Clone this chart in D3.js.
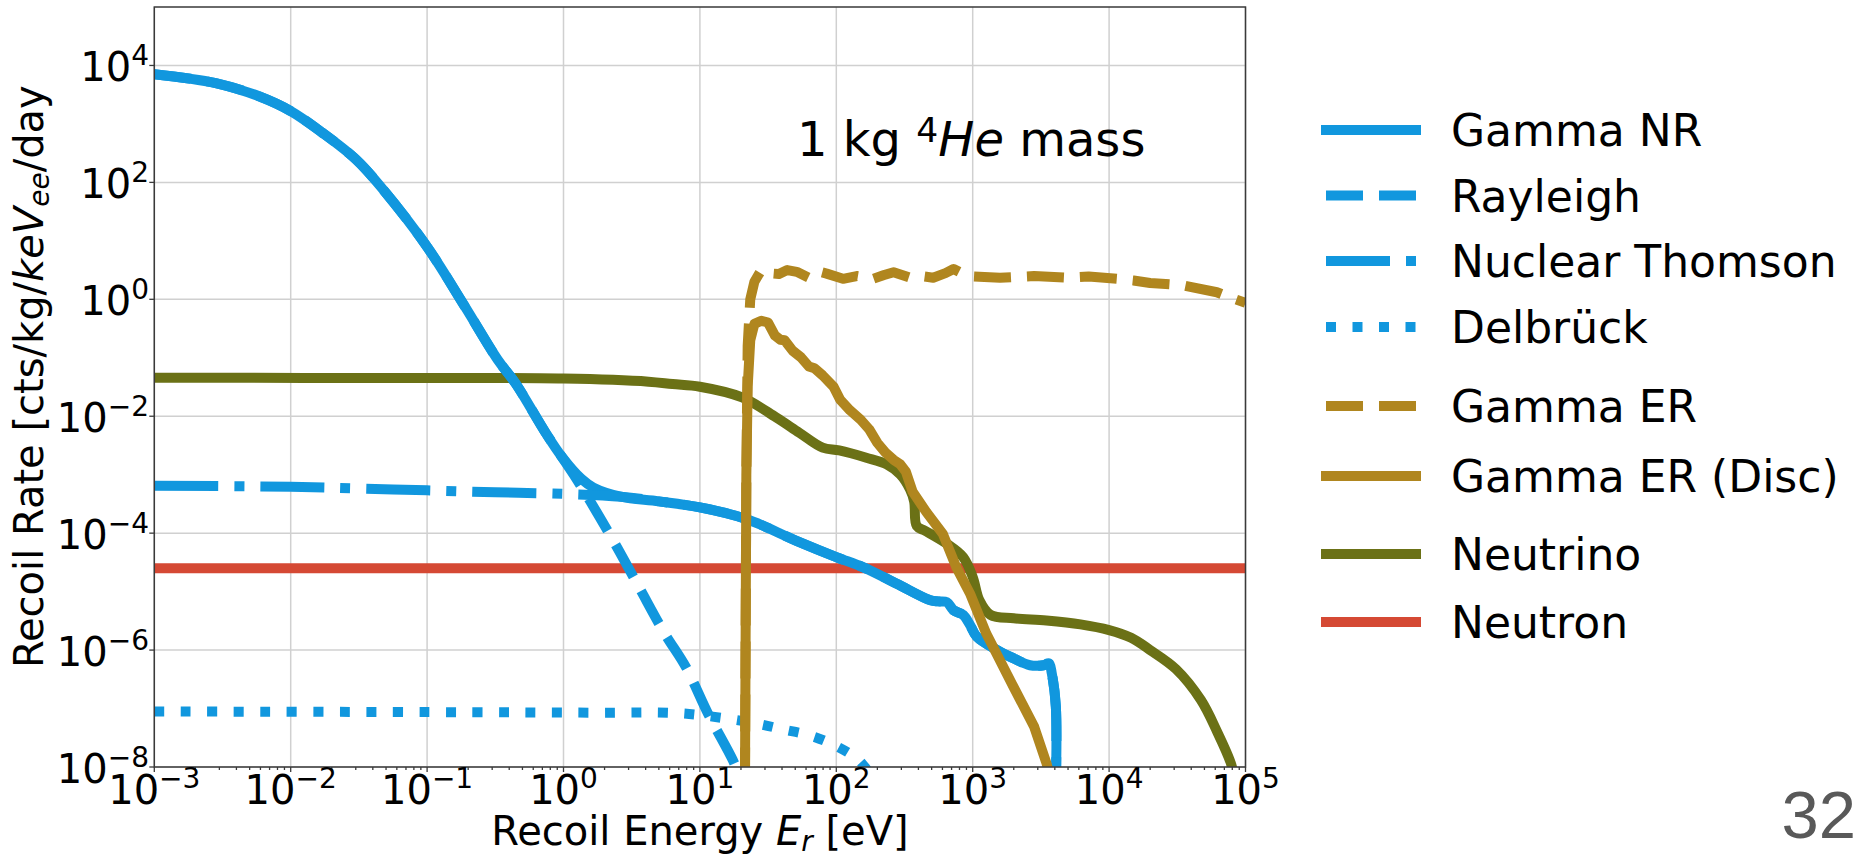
<!DOCTYPE html>
<html>
<head>
<meta charset="utf-8">
<script src="https://cdn.jsdelivr.net/npm/d3@7"></script>
<style>
  html, body { margin: 0; padding: 0; background: #fff; }
  svg { display: block; font-family: "DejaVu Sans", sans-serif; }
</style>
</head>
<body>
<svg id="chart" width="1858" height="857"></svg>
<script>
// ---- Tick values (powers of ten) ----
const xTickExps = [-3, -2, -1, 0, 1, 2, 3, 4, 5];
const yTickExps = [-8, -6, -4, -2, 0, 2, 4];

// ---- Series: [recoil energy (eV), rate (cts/kg/keVee/day)] ----
const gammaNR = [
  [1e-3, 7.1e3], [2.82e-3, 5.0e3], [5.9e-3, 2.95e3], [1e-2, 1.66e3], [1.7e-2, 7.1e2],
  [3.02e-2, 2.45e2], [4.68e-2, 79], [0.1, 7.9], [0.19, 0.74], [0.331, 9.1e-2],
  [0.447, 3.6e-2], [0.74, 5.2e-3], [0.977, 2.0e-3], [1.35, 8.5e-4], [1.66, 6.0e-4],
  [2.63, 4.2e-4], [5.0, 3.5e-4], [10, 2.75e-4], [21.9, 1.74e-4], [51, 7.4e-5],
  [100, 3.9e-5], [158, 2.6e-5], [275, 1.38e-5], [490, 7.1e-6], [560, 6.8e-6],
  [646, 6.6e-6], [724, 4.8e-6], [851, 4.0e-6], [955, 2.7e-6], [1070, 1.7e-6],
  [1510, 1.0e-6], [2000, 7.2e-7], [2630, 5.5e-7], [3310, 5.5e-7], [3630, 5.9e-7],
  [3800, 4.0e-7], [4070, 1.07e-7], [4070, 5e-9]
];

const rayleigh = [
  [1e-3, 7.1e3], [2.82e-3, 5.0e3], [5.9e-3, 2.95e3], [1e-2, 1.66e3], [1.7e-2, 7.1e2],
  [3.02e-2, 2.45e2], [4.68e-2, 79], [0.1, 7.9], [0.19, 0.74], [0.331, 9.1e-2],
  [0.447, 3.6e-2], [0.74, 5.2e-3], [1.26, 8.1e-4], [2.29, 7.8e-5], [3.55, 1.23e-5],
  [5.5, 1.95e-6], [7.9, 5.1e-7], [11.5, 8.1e-8], [17.4, 1.32e-8], [18.6, 8.9e-9], [20, 5e-9]
];

const nuclearThomson = [
  [1e-3, 6.5e-4], [1e-2, 6.2e-4], [3.16e-2, 5.8e-4], [0.1, 5.4e-4], [0.316, 5.0e-4],
  [1, 4.7e-4], [2.63, 4.2e-4], [5.0, 3.5e-4], [10, 2.75e-4], [21.9, 1.74e-4],
  [51, 7.4e-5], [100, 3.9e-5], [158, 2.6e-5], [275, 1.38e-5], [490, 7.1e-6],
  [560, 6.8e-6], [646, 6.6e-6], [724, 4.8e-6], [851, 4.0e-6], [955, 2.7e-6],
  [1070, 1.7e-6], [1510, 1.0e-6], [2000, 7.2e-7], [2630, 5.5e-7], [3310, 5.5e-7],
  [3630, 5.9e-7], [3800, 4.0e-7], [4070, 1.07e-7], [4070, 5e-9]
];

const delbruck = [
  [1e-3, 8.9e-8], [0.1, 8.7e-8], [1.66, 8.5e-8], [7.1, 8.3e-8], [17.4, 6.5e-8],
  [27.5, 5.4e-8], [40.7, 4.4e-8], [63, 3.5e-8], [95.5, 2.4e-8], [141, 1.41e-8],
  [162, 1.0e-8], [170, 8.5e-9]
];

const gammaER = [
  [21.4, 5e-9], [21.9, 1e-3], [22.4, 0.16], [23.4, 1.0], [25.1, 2.0], [28.2, 3.16],
  [31.6, 2.8], [38, 2.7], [43.7, 3.16], [51.3, 2.95], [63, 2.34], [74, 3.0], [85, 2.75],
  [112, 2.24], [141, 2.5], [186, 2.24], [224, 2.6], [263, 2.9], [347, 2.34], [417, 2.5],
  [513, 2.34], [631, 2.8], [724, 3.3], [912, 2.5], [1585, 2.34], [2820, 2.5], [4900, 2.34],
  [7080, 2.45], [1.15e4, 2.24], [1.51e4, 2.1], [2e4, 1.9], [3.47e4, 1.74], [6.17e4, 1.32],
  [7.76e4, 1.07], [1e5, 0.87]
];

const gammaERDisc = [
  [21.4, 5e-9], [21.9, 1e-3], [22.4, 3.2e-2], [23.4, 0.2], [25.1, 0.38], [28.2, 0.43],
  [31.6, 0.40], [35.5, 0.24], [38.9, 0.204], [41.7, 0.2], [47.9, 0.132], [55, 0.102],
  [63, 0.071], [69.2, 0.066], [79.4, 0.05], [95.5, 3.2e-2], [107, 1.9e-2], [126, 1.26e-2],
  [151, 8.7e-3], [174, 6.0e-3], [200, 3.5e-3], [229, 2.4e-3], [263, 1.8e-3], [295, 1.5e-3],
  [324, 1.12e-3], [363, 5.1e-4], [457, 2.3e-4], [603, 9.8e-5], [759, 2.6e-5], [955, 9.3e-6],
  [1260, 1.9e-6], [2000, 2.3e-7], [2820, 4.9e-8], [3470, 1.17e-8], [3630, 7.9e-9]
];

const neutrino = [
  [1e-3, 4.54e-2], [0.1, 4.5e-2], [1, 4.4e-2], [4.2, 3.9e-2], [6.3, 3.55e-2], [10, 3.2e-2],
  [20.4, 2.1e-2], [36.3, 9.5e-3], [53.7, 5.2e-3], [79.4, 2.9e-3], [105, 2.6e-3],
  [166, 1.95e-3], [234, 1.5e-3], [295, 1.0e-3], [347, 5.6e-4], [372, 3.5e-4], [389, 1.32e-4],
  [447, 1.1e-4], [646, 6.6e-5], [851, 3.9e-5], [1000, 1.78e-5], [1120, 7.1e-6],
  [1350, 4.0e-6], [2000, 3.5e-6], [3470, 3.2e-6], [6170, 2.75e-6], [1e4, 2.2e-6],
  [1.45e4, 1.62e-6], [2e4, 1.0e-6], [3.1e4, 4.7e-7], [4.7e4, 1.41e-7], [6.2e4, 4.0e-8],
  [7.8e4, 1.17e-8], [8.3e4, 6.3e-9]
];

const neutron = [[1e-3, 2.5e-5], [1e5, 2.5e-5]];

const legendLabels = ["Gamma NR", "Rayleigh", "Nuclear Thomson", "Delbrück",
  "Gamma ER", "Gamma ER (Disc)", "Neutrino", "Neutron"];

// ---- Styles ----
const BLUE = "#1197de", GOLD = "#b0861f", OLIVE = "#6b7116", RED = "#d54934";
const LW = 10;
const DASHED = `${3.7 * LW} ${1.6 * LW}`;
const DASHDOT = `${6.4 * LW} ${1.6 * LW} ${LW} ${1.6 * LW}`;
const DOTTED = `${LW} ${1.65 * LW}`;

const series = [
  { key: "Gamma NR", data: gammaNR, color: BLUE, dash: null, smooth: true },
  { key: "Rayleigh", data: rayleigh, color: BLUE, dash: DASHED, smooth: true },
  { key: "Nuclear Thomson", data: nuclearThomson, color: BLUE, dash: DASHDOT, smooth: true },
  { key: "Delbrück", data: delbruck, color: BLUE, dash: DOTTED, smooth: true },
  { key: "Gamma ER", data: gammaER, color: GOLD, dash: DASHED, smooth: false },
  { key: "Gamma ER (Disc)", data: gammaERDisc, color: GOLD, dash: null, smooth: false },
  { key: "Neutrino", data: neutrino, color: OLIVE, dash: null, smooth: true },
  { key: "Neutron", data: neutron, color: RED, dash: null, smooth: false }
];
const drawOrder = ["Neutron", "Neutrino", "Gamma NR", "Rayleigh", "Nuclear Thomson",
  "Delbrück", "Gamma ER", "Gamma ER (Disc)"];

// ---- Layout ----
const plot = { left: 154.3, right: 1245.5, top: 7, bottom: 767 };
const svg = d3.select("#chart");

const x = d3.scaleLog().domain([1e-3, 1e5]).range([plot.left, plot.right]);
const y = d3.scaleLog().domain([1e-8, 1e5]).range([plot.bottom, plot.top]);

svg.append("defs").append("clipPath").attr("id", "plotClip")
  .append("rect")
  .attr("x", plot.left).attr("y", plot.top)
  .attr("width", plot.right - plot.left).attr("height", plot.bottom - plot.top);

// Grid
const grid = svg.append("g").attr("stroke", "#d0d0d0").attr("stroke-width", 1.5);
xTickExps.forEach(e => {
  const px = x(Math.pow(10, e));
  grid.append("line").attr("x1", px).attr("x2", px).attr("y1", plot.top).attr("y2", plot.bottom);
});
yTickExps.forEach(e => {
  const py = y(Math.pow(10, e));
  grid.append("line").attr("x1", plot.left).attr("x2", plot.right).attr("y1", py).attr("y2", py);
});

// Data lines
const lineSmooth = d3.line().x(d => x(d[0])).y(d => y(d[1])).curve(d3.curveCatmullRom.alpha(0.5));
const lineStraight = d3.line().x(d => x(d[0])).y(d => y(d[1]));
const lines = svg.append("g").attr("clip-path", "url(#plotClip)");
drawOrder.forEach(k => {
  const s = series.find(v => v.key === k);
  lines.append("path")
    .attr("d", (s.smooth ? lineSmooth : lineStraight)(s.data))
    .attr("fill", "none")
    .attr("stroke", s.color)
    .attr("stroke-width", LW)
    .attr("stroke-linejoin", "round")
    .attr("stroke-linecap", "butt")
    .attr("stroke-dasharray", s.dash);
});

// Frame
svg.append("rect")
  .attr("x", plot.left).attr("y", plot.top)
  .attr("width", plot.right - plot.left).attr("height", plot.bottom - plot.top)
  .attr("fill", "none").attr("stroke", "#3a3a3a").attr("stroke-width", 1.5);

// Ticks
const ticks = svg.append("g").attr("stroke", "#3a3a3a").attr("stroke-width", 1.3);
for (let e = -3; e <= 5; e++) {
  const px = x(Math.pow(10, e));
  ticks.append("line").attr("x1", px).attr("x2", px).attr("y1", plot.bottom).attr("y2", plot.bottom + 5);
  if (e < 5) {
    for (let m = 2; m <= 9; m++) {
      const mx = x(m * Math.pow(10, e));
      ticks.append("line").attr("x1", mx).attr("x2", mx).attr("y1", plot.bottom).attr("y2", plot.bottom + 3);
    }
  }
}
yTickExps.forEach(e => {
  const py = y(Math.pow(10, e));
  ticks.append("line").attr("x1", plot.left - 5).attr("x2", plot.left).attr("y1", py).attr("y2", py);
});

// Tick labels
const TICK_FS = 40;
const fmtExp = e => (e < 0 ? "\u2212" + Math.abs(e) : String(e));
function powLabel(g, px, py, e, anchor) {
  const t = g.append("text").attr("x", px).attr("y", py)
    .attr("text-anchor", anchor).attr("font-size", TICK_FS).attr("fill", "#000");
  t.append("tspan").text("10");
  t.append("tspan").attr("font-size", TICK_FS * 0.7).attr("dy", -16).text(fmtExp(e));
}
const labels = svg.append("g");
xTickExps.forEach(e => powLabel(labels, x(Math.pow(10, e)), 804, e, "middle"));
yTickExps.forEach(e => powLabel(labels, 149, y(Math.pow(10, e)) + 16, e, "end"));

// Axis titles
const AX_FS = 40;
const xl = svg.append("text").attr("x", (plot.left + plot.right) / 2).attr("y", 845)
  .attr("text-anchor", "middle").attr("font-size", AX_FS);
xl.append("tspan").text("Recoil Energy ");
xl.append("tspan").attr("font-style", "italic").text("E");
xl.append("tspan").attr("font-style", "italic").attr("font-size", AX_FS * 0.7).attr("dy", 6).text("r");
xl.append("tspan").attr("dy", -6).text(" [eV]");

const yl = svg.append("text").attr("transform", "translate(43,668) rotate(-90)")
  .attr("text-anchor", "start").attr("font-size", AX_FS);
yl.append("tspan").text("Recoil Rate [cts/kg/");
yl.append("tspan").attr("font-style", "italic").text("keV");
yl.append("tspan").attr("font-style", "italic").attr("font-size", AX_FS * 0.7).attr("dy", 6).text("ee");
yl.append("tspan").attr("dy", -6).text("/day");

// Annotation
const ann = svg.append("text").attr("x", 797).attr("y", 156).attr("font-size", 48);
ann.append("tspan").text("1 kg ");
ann.append("tspan").attr("font-size", 48 * 0.72).attr("dy", -14).text("4");
ann.append("tspan").attr("font-style", "italic").attr("dy", 14).text("He");
ann.append("tspan").text(" mass");

// Legend
const legendY = [130, 195.5, 261, 327, 406, 476, 554, 622];
const LEG_FS = 44;
const leg = svg.append("g");
legendLabels.forEach((name, i) => {
  const s = series.find(v => v.key === name);
  const ly = legendY[i];
  leg.append("line")
    .attr("x1", 1326).attr("x2", 1416).attr("y1", ly).attr("y2", ly)
    .attr("stroke", s.color).attr("stroke-width", LW)
    .attr("stroke-linecap", s.dash ? "butt" : "square")
    .attr("stroke-dasharray", s.dash);
  leg.append("text").attr("x", 1451).attr("y", ly + 16)
    .attr("font-size", LEG_FS).text(name);
});

// Page number
svg.append("text").attr("x", 1856).attr("y", 838).attr("text-anchor", "end")
  .attr("font-family", "'Liberation Sans', Arial, sans-serif")
  .attr("font-size", 67).attr("fill", "#595959").text("32");
</script>
</body>
</html>
